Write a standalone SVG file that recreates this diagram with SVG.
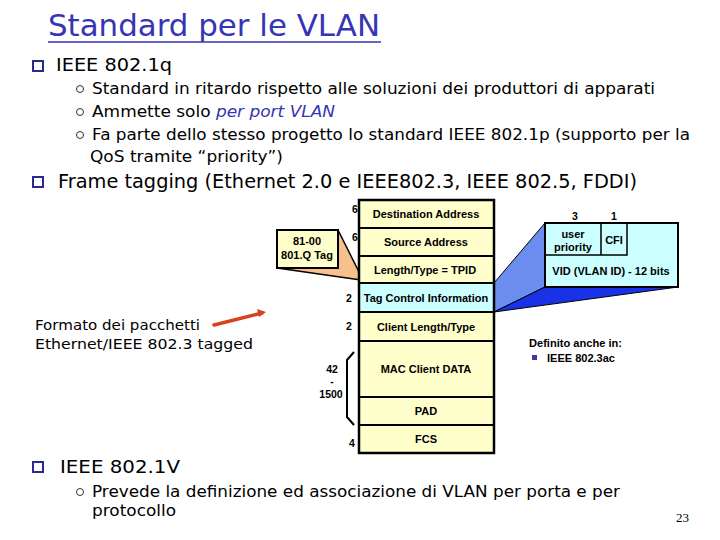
<svg xmlns="http://www.w3.org/2000/svg" width="720" height="540" viewBox="0 0 720 540">
<defs>
<style>
.body{font-family:"DejaVu Sans","Liberation Sans",sans-serif;fill:#000}
.t1{font-size:18px}
.t2{font-size:15.5px}
.lbl{font-family:"Liberation Sans",Arial,sans-serif;font-weight:bold;font-size:11px;fill:#000}
.num{font-family:"Liberation Sans",Arial,sans-serif;font-weight:bold;font-size:10.5px;fill:#000}
.yel{fill:#FFFFCC;stroke:#000;stroke-width:2}
.cy{fill:#CCFFFF;stroke:#000;stroke-width:2}
.sq{fill:#fff;stroke:#2b2b8c;stroke-width:2}
.circ{fill:none;stroke:#333;stroke-width:1}
</style>
</defs>
<rect width="720" height="540" fill="#fff"/>

<g id="title">
<text x="48" y="36" font-family="DejaVu Sans,Liberation Sans,sans-serif" font-size="31" fill="#3535b5" textLength="332" lengthAdjust="spacingAndGlyphs">Standard per le VLAN</text>
<line x1="48" y1="42" x2="381" y2="42" stroke="#3535b5" stroke-width="1.5"/>
</g>

<g id="bullets">
<rect class="sq" x="33" y="61" width="10" height="10"/>
<text class="body t1" x="56" y="71" textLength="116" lengthAdjust="spacingAndGlyphs">IEEE 802.1q</text>
<circle class="circ" cx="80" cy="89" r="3.5"/>
<text class="body t2" x="92" y="94" textLength="563" lengthAdjust="spacingAndGlyphs">Standard in ritardo rispetto alle soluzioni dei produttori di apparati</text>
<circle class="circ" cx="80" cy="112" r="3.5"/>
<text class="body t2" x="92" y="117" textLength="243" lengthAdjust="spacingAndGlyphs">Ammette solo <tspan fill="#3535b5" font-style="italic">per port VLAN</tspan></text>
<circle class="circ" cx="80" cy="135" r="3.5"/>
<text class="body t2" x="92" y="140" textLength="598" lengthAdjust="spacingAndGlyphs">Fa parte dello stesso progetto lo standard IEEE 802.1p (supporto per la</text>
<text class="body t2" x="90" y="162" textLength="193" lengthAdjust="spacingAndGlyphs">QoS tramite “priority”)</text>
<rect class="sq" x="33" y="177" width="10" height="10"/>
<text class="body" font-size="19" x="58" y="188" textLength="579" lengthAdjust="spacingAndGlyphs">Frame tagging (Ethernet 2.0 e IEEE802.3, IEEE 802.5, FDDI)</text>
<rect class="sq" x="33" y="462" width="10" height="10"/>
<text class="body t1" x="60" y="473" textLength="120" lengthAdjust="spacingAndGlyphs">IEEE 802.1V</text>
<circle class="circ" cx="80" cy="492" r="3.5"/>
<text class="body t2" x="92" y="497" textLength="528" lengthAdjust="spacingAndGlyphs">Prevede la definizione ed associazione di VLAN per porta e per</text>
<text class="body t2" x="92" y="516" textLength="84" lengthAdjust="spacingAndGlyphs">protocollo</text>
<text x="676" y="522" font-family="Liberation Serif,serif" font-size="13" fill="#000">23</text>
</g>

<g id="caption">
<text class="body" font-size="14.5" x="35" y="330" textLength="165" lengthAdjust="spacingAndGlyphs">Formato dei pacchetti</text>
<text class="body" font-size="14.5" x="35" y="349" textLength="218" lengthAdjust="spacingAndGlyphs">Ethernet/IEEE 802.3 tagged</text>
</g>

<g id="connectors">
<polygon points="338,230 361,276 361,280 277,268" fill="#F7C08C" stroke="none"/>
<line x1="338" y1="230" x2="361" y2="276" stroke="#000" stroke-width="1.5"/>
<line x1="277" y1="268" x2="361" y2="280" stroke="#000" stroke-width="1.5"/>
<polygon points="494,283 545,223 545,287 494,312" fill="#6C8DF0" stroke="#000" stroke-width="1"/>
<polygon points="494,312 545,287 678,287" fill="#1A32E6" stroke="#000" stroke-width="1"/>
<path d="M214,325 L262,313" stroke="#D8401E" stroke-width="3.5" stroke-linecap="round"/>
<polygon points="257,309 266,312 259,317" fill="#D8401E"/>
</g>

<g id="tag-box">
<rect x="277" y="230" width="61" height="38" fill="#FFFFCC" stroke="#000" stroke-width="2"/>
<text class="lbl" x="307" y="245" text-anchor="middle">81-00</text>
<text class="lbl" x="307" y="259" text-anchor="middle">801.Q Tag</text>
</g>

<g id="frame">
<g id="row-dest"><rect class="yel" x="359" y="200" width="135" height="28"/><text class="lbl" x="426" y="218" text-anchor="middle">Destination Address</text><text class="num" x="355" y="213" text-anchor="middle">6</text></g>
<g id="row-src"><rect class="yel" x="359" y="228" width="135" height="28"/><text class="lbl" x="426" y="246" text-anchor="middle">Source Address</text><text class="num" x="355" y="241" text-anchor="middle">6</text></g>
<g id="row-tpid"><rect class="yel" x="359" y="256" width="135" height="27"/><text class="lbl" x="425" y="274" text-anchor="middle">Length/Type = TPID</text></g>
<g id="row-tci"><rect class="cy" x="359" y="283" width="135" height="29"/><text class="lbl" x="426" y="302" text-anchor="middle">Tag Control Information</text><text class="num" x="349" y="302" text-anchor="middle">2</text></g>
<g id="row-clt"><rect class="yel" x="359" y="312" width="135" height="29"/><text class="lbl" x="426" y="331" text-anchor="middle">Client Length/Type</text><text class="num" x="349" y="330" text-anchor="middle">2</text></g>
<g id="row-data"><rect class="yel" x="359" y="341" width="135" height="56"/><text class="lbl" x="426" y="373" text-anchor="middle">MAC Client DATA</text></g>
<g id="row-pad"><rect class="yel" x="359" y="397" width="135" height="28"/><text class="lbl" x="426" y="415" text-anchor="middle">PAD</text></g>
<g id="row-fcs"><rect class="yel" x="359" y="425" width="135" height="28"/><text class="lbl" x="426" y="443" text-anchor="middle">FCS</text><text class="num" x="352" y="447" text-anchor="middle">4</text></g>
<rect x="359" y="200" width="135" height="253" fill="none" stroke="#000" stroke-width="2.5"/>
</g>

<g id="size-brace">
<path d="M354,352 L347,360 L347,417 L354,425" fill="none" stroke="#000" stroke-width="2"/>
<text class="num" x="332" y="373" text-anchor="middle">42</text>
<text class="num" x="332" y="385" text-anchor="middle">-</text>
<text class="num" x="331" y="398" text-anchor="middle">1500</text>
</g>

<g id="tci-detail">
<rect x="545" y="223" width="133" height="64" fill="#CCFFFF" stroke="#000" stroke-width="2"/>
<path d="M601,223 L601,255 M545,255 L627,255 L627,223" fill="none" stroke="#000" stroke-width="1.5"/>
<text class="lbl" x="573" y="238" text-anchor="middle">user</text>
<text class="lbl" x="573" y="251" text-anchor="middle">priority</text>
<text class="lbl" x="614" y="244" text-anchor="middle">CFI</text>
<text class="lbl" x="611" y="275" text-anchor="middle">VID (VLAN ID) - 12 bits</text>
<text class="num" x="575" y="220" text-anchor="middle">3</text>
<text class="num" x="614" y="220" text-anchor="middle">1</text>
</g>

<g id="note">
<text class="lbl" x="529" y="347" textLength="93" lengthAdjust="spacingAndGlyphs">Definito anche in:</text>
<rect x="532" y="355" width="5" height="5" fill="#3a3aa0"/>
<text class="lbl" x="547" y="362" textLength="68" lengthAdjust="spacingAndGlyphs">IEEE 802.3ac</text>
</g>
</svg>
